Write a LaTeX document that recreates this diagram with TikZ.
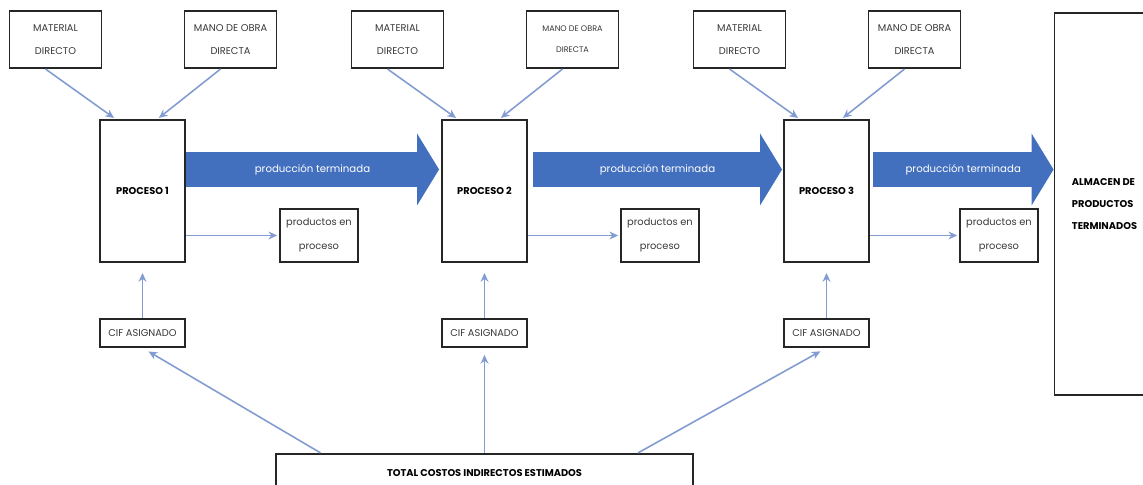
\documentclass[tikz,border=0pt]{standalone}
\usepackage{fontspec}
\setmainfont{Poppins}
\usepackage{tikz}
\usetikzlibrary{positioning, arrows.meta}
\definecolor{azulflecha}{RGB}{66,112,190}
\definecolor{azulclaro}{RGB}{130,156,210}
\tikzset{
    >={Stealth[length=5pt, width=4.5pt]}, % puntas de las flechas finas
    caja/.style={draw=black!85, line width=1.1pt, inner sep=0pt, align=center, text=black!78, font=\fontsize{5.6}{13.5}\selectfont}, % todas las cajas
    insumo/.style={caja, minimum width=1.84cm, minimum height=1.14cm}, % material y mano de obra
    proceso/.style={caja, minimum width=1.7cm, minimum height=2.84cm, text=black, font=\fontsize{5.6}{7}\selectfont\bfseries},
    enproceso/.style={caja, minimum width=1.56cm, minimum height=1.06cm},
    cif/.style={caja, minimum width=1.7cm, minimum height=0.56cm},
    flecha/.style={->, draw=azulclaro, line width=0.9pt, shorten >=1pt}, % flechas finas
    flechagrande/.style={draw=azulflecha, line width=0.7cm, -{Triangle[width=1.44cm, length=0.44cm, line width=0pt]}}, % produccion terminada
    node distance=6.84cm, % distancia entre procesos
}

\begin{document}
\begin{tikzpicture}
    \useasboundingbox (0,0) rectangle (22.86,9.70);
    \node[proceso] at (2.85,5.88) (p1) {PROCESO 1};
    \node[proceso, right of=p1] (p2) {PROCESO 2};
    \node[proceso, right of=p2] (p3) {PROCESO 3};
    \node[caja, minimum width=2cm, minimum height=7.64cm, text=black, font=\fontsize{5.6}{12.5}\selectfont\bfseries, align=left] at (22.09,5.62) (almacen) {ALMACEN DE\\PRODUCTOS\\TERMINADOS};

    \node[insumo, above=1cm of p1.north, xshift=-1.74cm] (mat1) {MATERIAL\\DIRECTO};
    \node[insumo, above=1cm of p1.north, xshift=1.76cm] (mano1) {MANO DE OBRA\\DIRECTA};
    \node[insumo, above=1cm of p2.north, xshift=-1.74cm] (mat2) {MATERIAL\\DIRECTO};
    \node[insumo, above=1cm of p2.north, xshift=1.76cm, font=\fontsize{4.6}{12}\selectfont] (mano2) {MANO DE OBRA\\DIRECTA};
    \node[insumo, above=1cm of p3.north, xshift=-1.74cm] (mat3) {MATERIAL\\DIRECTO};
    \node[insumo, above=1cm of p3.north, xshift=1.76cm] (mano3) {MANO DE OBRA\\DIRECTA};

    \node[enproceso, right=1.86cm of p1.south east, anchor=south west] (prod1) {productos en\\proceso};
    \node[enproceso, right=1.84cm of p2.south east, anchor=south west] (prod2) {productos en\\proceso};
    \node[enproceso, right=1.78cm of p3.south east, anchor=south west] (prod3) {productos en\\proceso};

    \node[cif, below=1.1cm of p1] (cif1) {CIF ASIGNADO};
    \node[cif, below=1.1cm of p2] (cif2) {CIF ASIGNADO};
    \node[cif, below=1.1cm of p3] (cif3) {CIF ASIGNADO};
    \node[caja, minimum width=8.34cm, minimum height=0.76cm, text=black, font=\fontsize{5.6}{7}\selectfont\bfseries, below=2.1cm of cif2] (total) {TOTAL COSTOS INDIRECTOS ESTIMADOS};

    % produccion terminada
    \coordinate (f3) at ([xshift=0.06cm, yshift=0.43cm]p3.east);
    \draw[flechagrande] ([yshift=0.43cm]p1.east) -- ([xshift=-0.04cm, yshift=0.43cm]p2.west)
        node[midway, text=white, font=\fontsize{5.8}{7}\selectfont] {producción terminada};
    \draw[flechagrande] ([xshift=0.1cm, yshift=0.43cm]p2.east) -- ([xshift=-0.02cm, yshift=0.43cm]p3.west)
        node[midway, text=white, font=\fontsize{5.8}{7}\selectfont] {producción terminada};
    \draw[flechagrande] (f3) -- (f3 -| almacen.west)
        node[midway, text=white, font=\fontsize{5.8}{7}\selectfont] {producción terminada};

    % material y mano de obra
    \draw[flecha] ([xshift=-0.2cm]mat1.south) -- ([xshift=-0.54cm]p1.north);
    \draw[flecha] ([xshift=-0.2cm]mano1.south) -- ([xshift=0.3cm]p1.north);
    \draw[flecha] ([xshift=-0.2cm]mat2.south) -- ([xshift=-0.54cm]p2.north);
    \draw[flecha] ([xshift=-0.2cm]mano2.south) -- ([xshift=0.3cm]p2.north);
    \draw[flecha] ([xshift=-0.2cm]mat3.south) -- ([xshift=-0.54cm]p3.north);
    \draw[flecha] ([xshift=-0.2cm]mano3.south) -- ([xshift=0.3cm]p3.north);

    % productos en proceso
    \draw[flecha] (p1.east |- prod1.west) -- (prod1.west);
    \draw[flecha] (p2.east |- prod2.west) -- (prod2.west);
    \draw[flecha] (p3.east |- prod3.west) -- (prod3.west);

    % costos indirectos
    \draw[flecha, shorten >=0.2cm] (cif1) -- (p1);
    \draw[flecha, shorten >=0.2cm] (cif2) -- (p2);
    \draw[flecha, shorten >=0.2cm] (cif3) -- (p3);
    \draw[flecha, shorten >=0.14cm] ([xshift=-3.28cm]total.north) -- (cif1.south);
    \draw[flecha, shorten >=0.14cm] (total.north) -- (cif2.south);
    \draw[flecha, shorten >=0.14cm] ([xshift=3.07cm]total.north) -- (cif3.south);
\end{tikzpicture}
\end{document}
